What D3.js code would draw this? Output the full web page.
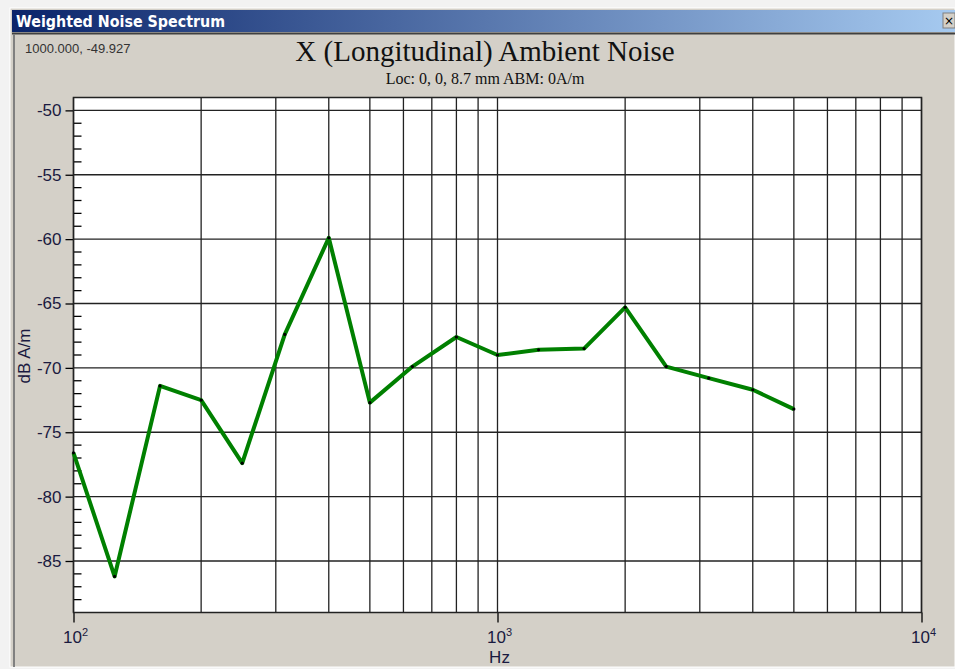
<!DOCTYPE html>
<html><head><meta charset="utf-8">
<script src="https://cdn.jsdelivr.net/npm/d3@7"></script>
<style>body{margin:0;background:#f0f0f0;} svg{display:block;}</style>
</head><body>
<svg id="c" width="955" height="669"></svg>
<script>
const freqs = [100,125,160,200,250,315,400,500,630,800,1000,1250,1600,2000,2500,3150,4000,5000];
const levels = [-76.6,-86.2,-71.4,-72.5,-77.4,-67.4,-59.9,-72.7,-69.9,-67.6,-69.0,-68.6,-68.5,-65.3,-69.9,-70.8,-71.7,-73.2];
const yTicks = [-50,-55,-60,-65,-70,-75,-80,-85];
const xDecades = [100,1000,10000];
const xDecadeLabels = ["2","3","4"];

const svg = d3.select("#c");
// window frame
svg.append("rect").attr("x",0).attr("y",0).attr("width",955).attr("height",669).attr("fill","#f2f2f2");
svg.append("rect").attr("x",10).attr("y",8).attr("width",945).attr("height",659).attr("fill","#d4d0c8").attr("stroke","#ffffff").attr("stroke-width",1);
const grad = svg.append("defs").append("linearGradient").attr("id","tb").attr("x1","0").attr("x2","1");
grad.append("stop").attr("offset","0").attr("stop-color","#0a246a");
grad.append("stop").attr("offset","1").attr("stop-color","#a6caf0");
svg.append("rect").attr("x",12).attr("y",10).attr("width",943).attr("height",22).attr("fill","url(#tb)");
svg.append("text").attr("x",16).attr("y",27).attr("fill","#fff").attr("font-family","'DejaVu Sans',sans-serif")
  .attr("font-weight","bold").attr("font-size",15).attr("textLength",209).attr("lengthAdjust","spacingAndGlyphs").text("Weighted Noise Spectrum");
// close button
svg.append("rect").attr("x",943).attr("y",13).attr("width",12).attr("height",15).attr("fill","#d4d0c8").attr("stroke","#808080");
svg.append("text").attr("x",949).attr("y",25).attr("text-anchor","middle").attr("font-family","'DejaVu Sans',sans-serif").attr("font-size",12).attr("fill","#000").text("×");
// inner borders
svg.append("line").attr("x1",12).attr("x2",955).attr("y1",33.5).attr("y2",33.5).attr("stroke","#404040").attr("stroke-width",2);
svg.append("line").attr("x1",14).attr("x2",14).attr("y1",34).attr("y2",667).attr("stroke","#808080").attr("stroke-width",2);

const L=73.5, R=921.5, T=97.5, B=612.5;
const x = d3.scaleLog().domain([100,10000]).range([L,R]);
const y = d3.scaleLinear().domain([-89,-49]).range([B,T]);

svg.append("rect").attr("x",L).attr("y",T).attr("width",R-L).attr("height",B-T).attr("fill","#ffffff");

// vertical grid (all log ticks)
const gridX = [];
for (let d=100; d<10000; d*=10) for (let k=1;k<10;k++) gridX.push(d*k);
gridX.push(10000);
svg.append("g").selectAll("line").data(gridX).join("line")
  .attr("x1",d=>x(d)).attr("x2",d=>x(d)).attr("y1",T).attr("y2",B)
  .attr("stroke","#222").attr("stroke-width",1.3);
// horizontal grid
svg.append("g").selectAll("line").data(yTicks).join("line")
  .attr("x1",L).attr("x2",R).attr("y1",d=>y(d)).attr("y2",d=>y(d))
  .attr("stroke","#222").attr("stroke-width",1.3);

// y axis: major outside, minor inside
const yAxis = d3.axisLeft(y).tickValues(yTicks).tickSize(8).tickFormat(d=>d);
const ga = svg.append("g").attr("transform",`translate(${L},0)`).call(yAxis);
ga.select(".domain").remove();
ga.selectAll("line").attr("stroke","#000").attr("stroke-width",1.3);
ga.selectAll("text").attr("font-family","'Liberation Sans',Arial,sans-serif").attr("font-size",17).attr("fill","#1a1a40").attr("dx",-1);
const minor = d3.range(-88,-49).filter(v=>v%5!==0);
svg.append("g").selectAll("line").data(minor).join("line")
  .attr("x1",L).attr("x2",L+8).attr("y1",d=>y(d)).attr("y2",d=>y(d)).attr("stroke","#000").attr("stroke-width",1.3);

// x axis
const xAxis = d3.axisBottom(x).tickValues(xDecades).tickSize(10).tickFormat(()=>"");
const gx = svg.append("g").attr("transform",`translate(0,${B})`).call(xAxis);
gx.select(".domain").remove();
gx.selectAll("line").attr("stroke","#000").attr("stroke-width",1.3);
xDecades.forEach((d,i)=>{
  const t = svg.append("text").attr("x",x(d)+2).attr("y",643).attr("text-anchor","middle")
    .attr("font-family","'Liberation Sans',Arial,sans-serif").attr("font-size",17).attr("fill","#1a1a40");
  t.append("tspan").text("10");
  t.append("tspan").attr("font-size",11).attr("dy",-7).text(xDecadeLabels[i]);
});
svg.append("text").attr("x",x(1000)+2).attr("y",663).attr("text-anchor","middle")
  .attr("font-family","'Liberation Sans',Arial,sans-serif").attr("font-size",17).attr("fill","#1a1a40").text("Hz");
svg.append("text").attr("transform","translate(30,356) rotate(-90)").attr("text-anchor","middle")
  .attr("font-family","'Liberation Sans',Arial,sans-serif").attr("font-size",17).attr("fill","#1a1a40").text("dB A/m");

// plot border
svg.append("rect").attr("x",L).attr("y",T).attr("width",R-L).attr("height",B-T).attr("fill","none").attr("stroke","#222").attr("stroke-width",1.5);

// titles
svg.append("text").attr("x",485).attr("y",61).attr("text-anchor","middle").attr("font-family","'Liberation Serif','Times New Roman',serif")
  .attr("font-size",29).attr("fill","#111").text("X (Longitudinal) Ambient Noise");
svg.append("text").attr("x",485).attr("y",84).attr("text-anchor","middle").attr("font-family","'Liberation Serif','Times New Roman',serif")
  .attr("font-size",16).attr("fill","#111").text("Loc: 0, 0, 8.7 mm ABM: 0A/m");
svg.append("text").attr("x",25).attr("y",53).attr("font-family","'Liberation Sans',Arial,sans-serif")
  .attr("font-size",13).attr("fill","#333").text("1000.000, -49.927");

// data line
const data = freqs.map((f,i)=>({f,v:levels[i]}));
svg.append("path").datum(data).attr("fill","none").attr("stroke","#008000").attr("stroke-width",4).attr("stroke-linejoin","round")
  .attr("d",d3.line().x(d=>x(d.f)).y(d=>y(d.v)));
svg.append("g").selectAll("circle").data(data).join("circle")
  .attr("cx",d=>x(d.f)).attr("cy",d=>y(d.v)).attr("r",1.6).attr("fill","#000");
</script>
</body></html>
